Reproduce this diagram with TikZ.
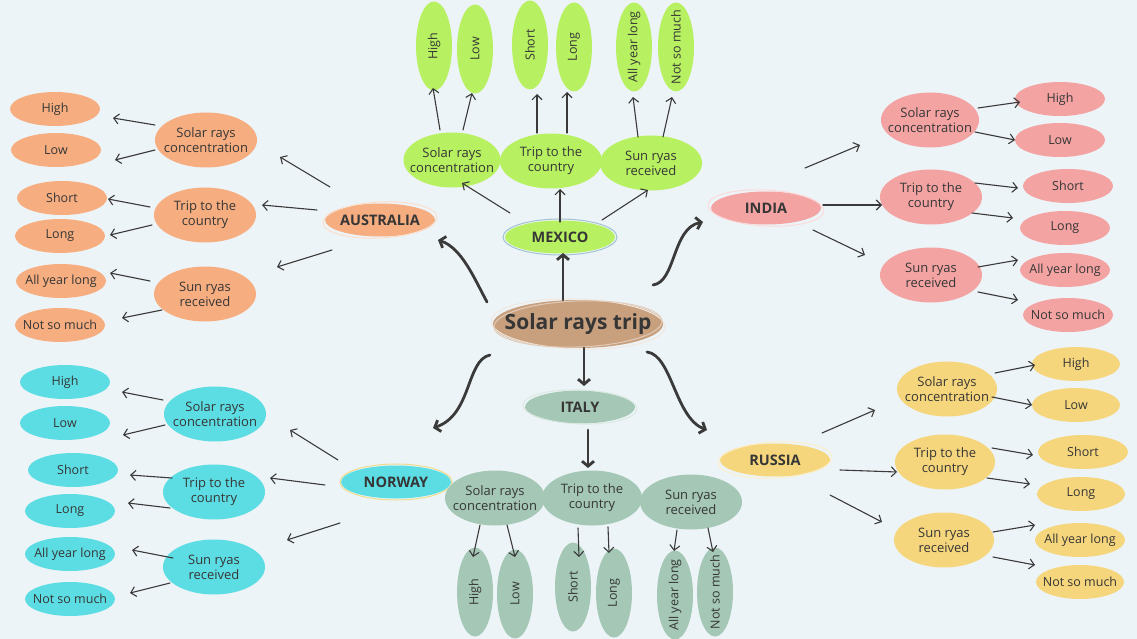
\documentclass[tikz,border=0pt]{standalone}
\usepackage{fontspec}
\setmainfont{Open Sans}
\usetikzlibrary{shapes.geometric,arrows.meta,calc}
\definecolor{bg}{HTML}{EDF4F7}
\definecolor{txt}{HTML}{363636}
\definecolor{arrc}{HTML}{3A3A3A}
\definecolor{cor}{HTML}{F6AD80}
\definecolor{cgr}{HTML}{B7F060}
\definecolor{cpk}{HTML}{F4A3A3}
\definecolor{ccy}{HTML}{5CDDE3}
\definecolor{csg}{HTML}{A4C7B6}
\definecolor{cye}{HTML}{F6D67C}
\definecolor{ctn}{HTML}{C9A07E}
\definecolor{ringmx}{HTML}{9FC3D2}
\definecolor{ringnw}{HTML}{EEDC8C}
\begin{document}
\begin{tikzpicture}[x=1pt,y=-1pt,
  base/.style={ellipse, inner xsep=-16pt, inner ysep=0pt, align=center, text=txt, font=\fontsize{12.5}{14.5}\selectfont},
  leaf/.style={base, minimum width=90, minimum height=34},
  vleaf/.style={base, minimum width=89, minimum height=36, rotate=90},
  sub/.style={base, minimum width=102, minimum height=55, font=\fontsize{13}{15}\selectfont},
  ctry/.style={ellipse, inner xsep=-12pt, inner ysep=0pt, minimum width=110, minimum height=33, text=txt, font=\bfseries\fontsize{14.5}{16}\selectfont},
  ring/.style={line width=1pt},
  arr/.style={draw=arrc, line width=1.1pt, line cap=round, -{Straight Barb[length=5pt,width=10pt]}},
  big/.style={draw=arrc, line width=2.8pt, line cap=round, -{Straight Barb[length=5pt,width=12pt]}}]
\path[use as bounding box, fill=bg] (0,0) rectangle (1137,639);

% ---------- centre ----------
\node[ellipse, inner xsep=-30pt, inner ysep=0pt, minimum width=170, minimum height=48, fill=ctn, text=txt,
  font=\bfseries\fontsize{21}{23}\selectfont] (c) at (578,324) {Solar rays trip};
\draw[ring, white!75!ctn, rotate around={-2:(c)}] (c) ellipse [x radius=87, y radius=25];
\draw[ring, white!45!ctn, rotate around={2:(c)}] (c) ellipse [x radius=84, y radius=23];

% ---------- countries ----------
\node[ctry, fill=cgr] (mx) at (560,237) {MEXICO};
\draw[ring, ringmx] (mx) ellipse [x radius=57, y radius=18];
\node[ctry, fill=cor] (au) at (380,220) {AUSTRALIA};
\draw[ring, white!60!cor, rotate around={3:(au)}] (au) ellipse [x radius=57, y radius=18];
\node[ctry, fill=cpk] (ind) at (766,208) {INDIA};
\draw[ring, white!60!cpk, rotate around={-3:(ind)}] (ind) ellipse [x radius=58, y radius=18];
\node[ctry, fill=ccy] (nw) at (396,482) {NORWAY};
\draw[ring, ringnw] (nw) ellipse [x radius=56, y radius=18];
\node[ctry, fill=csg] (it) at (580,407) {ITALY};
\draw[ring, white!60!csg, rotate around={-2:(it)}] (it) ellipse [x radius=57, y radius=17];
\node[ctry, fill=cye] (ru) at (775,460) {RUSSIA};
\draw[ring, white!60!cye, rotate around={3:(ru)}] (ru) ellipse [x radius=57, y radius=18];

% ---------- Mexico ----------
\node[sub, fill=cgr, minimum width=97] (mx1) at (452,160) {Solar rays\\concentration};
\node[sub, fill=cgr] (mx2) at (551,161) {Trip to the\\country};
\node[sub, fill=cgr] (mx3) at (651,163) {Sun ryas\\received};
\node[vleaf, fill=cgr] (mxH) at (434,46) {High};
\node[vleaf, fill=cgr] (mxL) at (475,49) {Low};
\node[vleaf, fill=cgr] (mxS) at (530,45) {Short};
\node[vleaf, fill=cgr] (mxG) at (574,47) {Long};
\node[vleaf, fill=cgr] (mxA) at (634,47) {All year long};
\node[vleaf, fill=cgr] (mxN) at (676,47) {Not so much};

% ---------- Australia ----------
\node[sub, fill=cor] (au1) at (206,140) {Solar rays\\concentration};
\node[sub, fill=cor] (au2) at (205,215) {Trip to the\\country};
\node[sub, fill=cor] (au3) at (205,294) {Sun ryas\\received};
\node[leaf, fill=cor] (auH) at (55,109) {High};
\node[leaf, fill=cor] (auL) at (56,150) {Low};
\node[leaf, fill=cor] (auS) at (62,198) {Short};
\node[leaf, fill=cor] (auG) at (60,236) {Long};
\node[leaf, fill=cor] (auA) at (61,281) {All year long};
\node[leaf, fill=cor] (auN) at (60,325) {Not so much};

% ---------- India ----------
\node[sub, fill=cpk, minimum width=98] (in1) at (930,120) {Solar rays\\concentration};
\node[sub, fill=cpk] (in2) at (931,197) {Trip to the\\country};
\node[sub, fill=cpk] (in3) at (931,275) {Sun ryas\\received};
\node[leaf, fill=cpk] (inH) at (1060,99) {High};
\node[leaf, fill=cpk] (inL) at (1060,140) {Low};
\node[leaf, fill=cpk] (inS) at (1068,186) {Short};
\node[leaf, fill=cpk] (inG) at (1065,228) {Long};
\node[leaf, fill=cpk] (inA) at (1065,270) {All year long};
\node[leaf, fill=cpk] (inN) at (1068,315) {Not so much};

% ---------- Norway ----------
\node[sub, fill=ccy] (nw1) at (215,414) {Solar rays\\concentration};
\node[sub, fill=ccy] (nw2) at (214,492) {Trip to the\\country};
\node[sub, fill=ccy] (nw3) at (214,567) {Sun ryas\\received};
\node[leaf, fill=ccy] (nwH) at (65,382) {High};
\node[leaf, fill=ccy] (nwL) at (65,423) {Low};
\node[leaf, fill=ccy] (nwS) at (73,470) {Short};
\node[leaf, fill=ccy] (nwG) at (70,511) {Long};
\node[leaf, fill=ccy] (nwA) at (70,554) {All year long};
\node[leaf, fill=ccy] (nwN) at (70,599) {Not so much};

% ---------- Italy ----------
\node[sub, fill=csg, minimum width=100] (it1) at (495,498) {Solar rays\\concentration};
\node[sub, fill=csg, minimum width=100] (it2) at (592,498) {Trip to the\\country};
\node[sub, fill=csg] (it3) at (691,502) {Sun ryas\\received};
\node[vleaf, fill=csg] (itH) at (475,592) {High};
\node[vleaf, fill=csg] (itL) at (515,594) {Low};
\node[vleaf, fill=csg] (itS) at (573,587) {Short};
\node[vleaf, fill=csg] (itG) at (614,593) {Long};
\node[vleaf, fill=csg] (itA) at (675,595) {All year long};
\node[vleaf, fill=csg] (itN) at (715,592) {Not so much};

% ---------- Russia ----------
\node[sub, fill=cye, minimum width=100] (ru1) at (947,389) {Solar rays\\concentration};
\node[sub, fill=cye, minimum width=100] (ru2) at (945,462) {Trip to the\\country};
\node[sub, fill=cye, minimum width=100] (ru3) at (944,540) {Sun ryas\\received};
\node[leaf, fill=cye, minimum width=88] (ruH) at (1076,364) {High};
\node[leaf, fill=cye, minimum width=88] (ruL) at (1076,405) {Low};
\node[leaf, fill=cye] (ruS) at (1083,452) {Short};
\node[leaf, fill=cye, minimum width=88] (ruG) at (1081,494) {Long};
\node[leaf, fill=cye] (ruA) at (1080,540) {All year long};
\node[leaf, fill=cye, minimum width=88] (ruN) at (1080,582) {Not so much};

% ---------- central arrows ----------
\draw[big] ($(c)+(-15,-24)$) -- ($(mx)+(3,16)$);
\draw[big] ($(c)+(6,24)$) -- ($(it)+(4,-21)$);
\draw[big] ($(it)+(8,23)$) -- ($(it2)+(-4,-30)$);
\draw[big] ($(c)+(-91,-22)$) .. controls ($(c)+(-103,-44)$) and ($(au)+(82,28)$) .. ($(au)+(58,20)$);
\draw[big] ($(c)+(75,-39)$) .. controls ($(c)+(98,-42)$) and ($(ind)+(-94,20)$) .. ($(ind)+(-63,14)$);
\draw[big] ($(c)+(-88,31)$) .. controls ($(c)+(-112,36)$) and ($(nw)+(76,-67)$) .. ($(nw)+(37,-54)$);
\draw[big] ($(c)+(69,28)$) .. controls ($(c)+(94,31)$) and ($(ru)+(-100,-42)$) .. ($(ru)+(-68,-30)$);

% ---------- Mexico arrows ----------
\draw[arr] ($(mx)+(0,-15)$) -- ($(mx2)+(9,28)$);
\draw[arr] ($(mx)+(-50,-24)$) -- ($(mx1)+(10,23)$);
\draw[arr] ($(mx)+(42,-17)$) -- ($(mx3)+(-3,27)$);
\draw[arr] ($(mx1)+(-12,-30)$) -- ($(mxH)+(-1,42)$);
\draw[arr] ($(mx1)+(11,-30)$) -- ($(mxL)+(-3,44)$);
\draw[arr] ($(mx2)+(-14,-28)$) -- ($(mxS)+(7,49)$);
\draw[arr] ($(mx2)+(16,-28)$) -- ($(mxG)+(-7,45)$);
\draw[arr] ($(mx3)+(-13,-26)$) -- ($(mxA)+(-1,50)$);
\draw[arr] ($(mx3)+(12,-26)$) -- ($(mxN)+(-4,50)$);

% ---------- Australia arrows ----------
\draw[arr] ($(au)+(-50,-33)$) -- ($(au1)+(74,17)$);
\draw[arr] ($(au)+(-63,-10)$) -- ($(au2)+(57,-10)$);
\draw[arr] ($(au)+(-48,30)$) -- ($(au3)+(72,-27)$);
\draw[arr] ($(au1)+(-51,-15)$) -- ($(auH)+(58,9)$);
\draw[arr] ($(au1)+(-51,10)$) -- ($(auL)+(59,10)$);
\draw[arr] ($(au2)+(-55,-8)$) -- ($(auS)+(46,1)$);
\draw[arr] ($(au2)+(-53,10)$) -- ($(auG)+(50,-1)$);
\draw[arr] ($(au3)+(-55,-13)$) -- ($(auA)+(49,-8)$);
\draw[arr] ($(au3)+(-43,16)$) -- ($(auN)+(62,-7)$);

% ---------- India arrows ----------
\draw[arr] ($(ind)+(39,-40)$) -- ($(in1)+(-70,25)$);
\draw[arr] ($(ind)+(57,-3)$) -- ($(in2)+(-49,8)$);
\draw[arr] ($(ind)+(47,22)$) -- ($(in3)+(-66,-20)$);
\draw[arr] ($(in1)+(48,-12)$) -- ($(inH)+(-40,3)$);
\draw[arr] ($(in1)+(45,12)$) -- ($(inL)+(-45,0)$);
\draw[arr] ($(in2)+(44,-14)$) -- ($(inS)+(-50,2)$);
\draw[arr] ($(in2)+(41,16)$) -- ($(inG)+(-52,-10)$);
\draw[arr] ($(in3)+(47,-8)$) -- ($(inA)+(-47,-10)$);
\draw[arr] ($(in3)+(47,17)$) -- ($(inN)+(-50,-15)$);

% ---------- Norway arrows ----------
\draw[arr] ($(nw)+(-58,-22)$) -- ($(nw1)+(75,16)$);
\draw[arr] ($(nw)+(-71,3)$) -- ($(nw2)+(56,-14)$);
\draw[arr] ($(nw)+(-56,41)$) -- ($(nw3)+(73,-27)$);
\draw[arr] ($(nw1)+(-52,-14)$) -- ($(nwH)+(57,10)$);
\draw[arr] ($(nw1)+(-50,11)$) -- ($(nwL)+(58,12)$);
\draw[arr] ($(nw2)+(-42,-14)$) -- ($(nwS)+(57,5)$);
\draw[arr] ($(nw2)+(-44,16)$) -- ($(nwG)+(58,-8)$);
\draw[arr] ($(nw3)+(-41,-9)$) -- ($(nwA)+(62,-4)$);
\draw[arr] ($(nw3)+(-44,16)$) -- ($(nwN)+(60,-6)$);

% ---------- Italy arrows ----------
\draw[arr] ($(it1)+(-15,27)$) -- ($(itH)+(-2,-35)$);
\draw[arr] ($(it1)+(12,27)$) -- ($(itL)+(0,-37)$);
\draw[arr] ($(it2)+(-14,30)$) -- ($(itS)+(6,-30)$);
\draw[arr] ($(it2)+(16,29)$) -- ($(itG)+(-5,-40)$);
\draw[arr] ($(it3)+(-14,28)$) -- ($(itA)+(-1,-44)$);
\draw[arr] ($(it3)+(17,26)$) -- ($(itN)+(-2,-40)$);

% ---------- Russia arrows ----------
\draw[arr] ($(ru)+(47,-27)$) -- ($(ru1)+(-72,21)$);
\draw[arr] ($(ru)+(65,10)$) -- ($(ru2)+(-48,10)$);
\draw[arr] ($(ru)+(55,35)$) -- ($(ru3)+(-62,-18)$);
\draw[arr] ($(ru1)+(48,-16)$) -- ($(ruH)+(-41,1)$);
\draw[arr] ($(ru1)+(45,8)$) -- ($(ruL)+(-44,0)$);
\draw[arr] ($(ru2)+(47,-14)$) -- ($(ruS)+(-50,3)$);
\draw[arr] ($(ru2)+(42,16)$) -- ($(ruG)+(-51,-10)$);
\draw[arr] ($(ru3)+(49,-8)$) -- ($(ruA)+(-45,-15)$);
\draw[arr] ($(ru3)+(49,17)$) -- ($(ruN)+(-45,-17)$);
\end{tikzpicture}
\end{document}
